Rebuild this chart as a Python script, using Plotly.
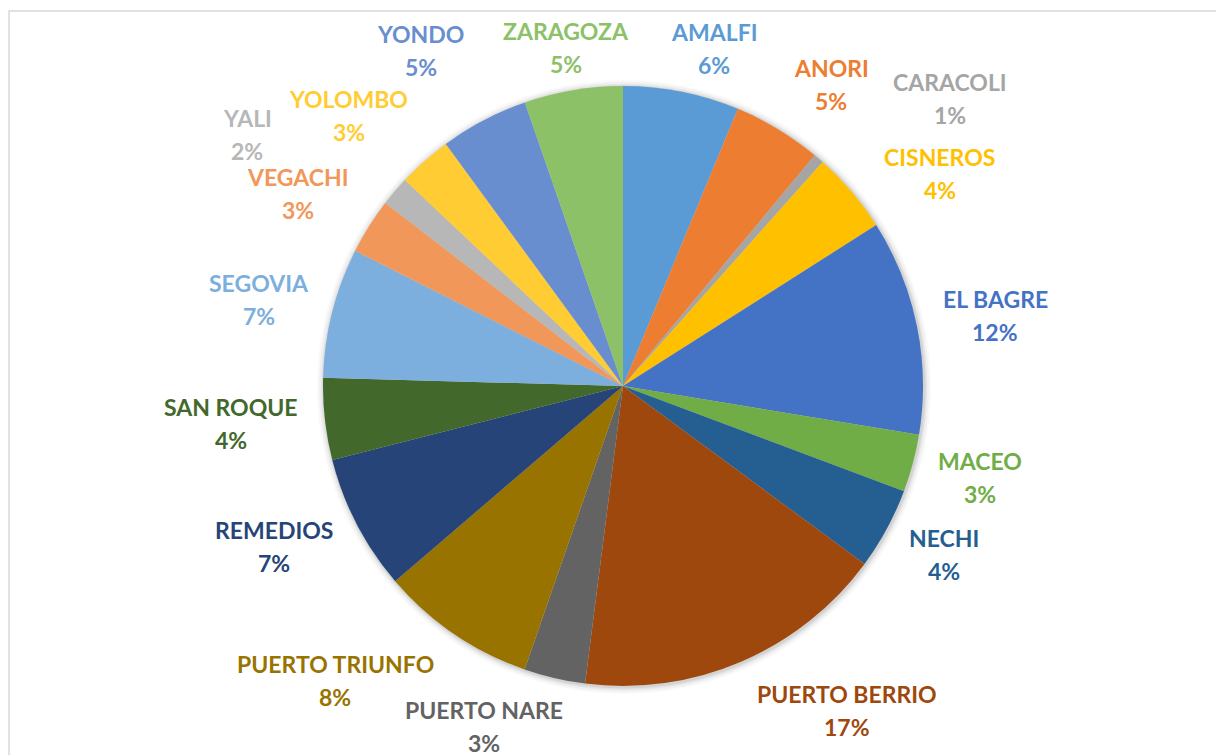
import math
import plotly.graph_objects as go

municipios = ["AMALFI", "ANORI", "CARACOLI", "CISNEROS", "EL BAGRE", "MACEO", "NECHI",
              "PUERTO BERRIO", "PUERTO NARE", "PUERTO TRIUNFO", "REMEDIOS", "SAN ROQUE",
              "SEGOVIA", "VEGACHI", "YALI", "YOLOMBO", "YONDO", "ZARAGOZA"]
porcentajes = [6.25, 4.78, 0.55, 4.4, 11.6, 3.1, 4.4, 16.9, 3.3, 8.4, 7.3, 4.4,
               7.0, 3.0, 1.6, 2.9, 4.75, 5.3]
colores = ["#5B9BD5", "#ED7D31", "#A5A5A5", "#FFC000", "#4472C4", "#70AD47", "#255E91",
           "#9E480E", "#636363", "#997300", "#264478", "#43682B", "#7CAFDD", "#F1975A",
           "#B7B7B7", "#FFCD33", "#698ED0", "#8CC168"]

# label layout tweaks (angle shift in degrees, extra radial distance in px),
# as placed by hand in the original chart to avoid overlaps
ajuste_etiquetas = {
    "AMALFI": (3.9, -5), "ANORI": (3.5, 5), "CARACOLI": (8, 57), "CISNEROS": (6.5, 0),
    "EL BAGRE": (0.75, -4), "MACEO": (-0.5, 6), "NECHI": (-0.7, -3),
    "PUERTO BERRIO": (-11.5, 13), "PUERTO NARE": (9, 4),
    "PUERTO TRIUNFO": (10, 13), "REMEDIOS": (2.7, 0), "SAN ROQUE": (0.9, 5),
    "SEGOVIA": (-0.75, -2), "VEGACHI": (-1.5, 0),
    "YALI": (-6.7, 92), "YOLOMBO": (-4, 11), "YONDO": (-3.4, 31), "ZARAGOZA": (0, -13),
}

W, H = 1224, 755
OFF = 8  # page body margin
cx, cy, R = 623, 386, 300
FS = 23
GAP = 22
LINE = 16.5


def px(x):
    return (x - OFF) / W


def py(y):
    return 1 - (y - OFF) / H


fig = go.Figure(go.Pie(
    labels=municipios, values=porcentajes, sort=False, direction="clockwise",
    rotation=0, marker=dict(colors=colores, line=dict(width=0)),
    textinfo="none", hoverinfo="label+percent", showlegend=False,
    domain=dict(x=[px(cx - R), px(cx + R)], y=[py(cy + R), py(cy - R)]),
))

total = sum(porcentajes)
annotations = []
cum = 0.0
for name, v, col in zip(municipios, porcentajes, colores):
    mid = (cum + v / 2) / total * 2 * math.pi
    cum += v
    ux0, uy0 = math.sin(mid), -math.cos(mid)
    hw = max(len(name), 3) * 0.62 * FS / 2
    hh = LINE + 8.5
    d = R + GAP + abs(ux0) * hw + abs(uy0) * hh
    da, dr = ajuste_etiquetas.get(name, (0, 0))
    ang = mid + math.radians(da)
    ux, uy = math.sin(ang), -math.cos(ang)
    d += dr
    x = cx + d * ux
    y = cy + d * uy
    pct = round(v / total * 100)
    for txt, yy in ((name, y - LINE), (f"{pct}%", y + LINE)):
        annotations.append(dict(
            x=px(x), y=py(yy), xref="paper", yref="paper", showarrow=False,
            xanchor="center", yanchor="middle", align="center",
            text=f"<b>{txt}</b>",
            font=dict(family="Lato, Carlito, sans-serif", size=FS, color=col),
        ))

shapes = []
for grow, alpha in ((7, 0.025), (5, 0.035), (3, 0.05), (1.5, 0.07)):
    shapes.append(dict(
        type="circle", xref="paper", yref="paper", layer="below",
        x0=px(cx - R - grow + 1), x1=px(cx + R + grow + 1),
        y0=py(cy + R + grow + 1), y1=py(cy - R - grow + 1),
        fillcolor=f"rgba(0,0,0,{alpha})", line=dict(width=0)))
shapes.append(dict(
    type="rect", xref="paper", yref="paper", layer="below",
    x0=px(9), x1=1.05, y0=-0.05, y1=py(11),
    line=dict(color="#D9D9D9", width=1.5), fillcolor="rgba(0,0,0,0)"))

fig.update_layout(
    width=W, height=H, margin=dict(l=0, r=0, t=0, b=0),
    paper_bgcolor="white", plot_bgcolor="white",
    annotations=annotations, shapes=shapes,
)

fig.write_html("out.html")
